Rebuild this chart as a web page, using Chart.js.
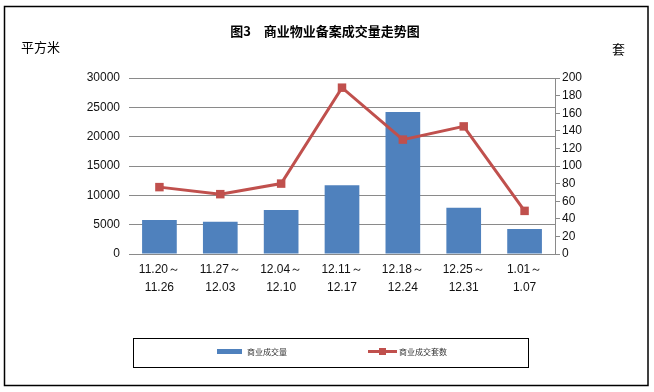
<!DOCTYPE html>
<html>
<head>
<meta charset="utf-8">
<script src="https://cdn.jsdelivr.net/npm/chart.js@4/dist/chart.umd.min.js"></script>
<style>
  html, body { margin: 0; padding: 0; background: #fff; }
  canvas { display: block; }
</style>
</head>
<body>
<canvas id="chart" width="654" height="392"></canvas>
<script>
// chart values
const weeks = [
  ['11.20～', '11.26'],
  ['11.27～', '12.03'],
  ['12.04～', '12.10'],
  ['12.11～', '12.17'],
  ['12.18～', '12.24'],
  ['12.25～', '12.31'],
  ['1.01～', '1.07']
];
const areaSold = [5800, 5500, 7500, 11700, 24200, 7900, 4250];  // 平方米
const unitsSold = [76, 68, 80, 189, 130, 145, 49];             // 套
const areaTicks = [0, 5000, 10000, 15000, 20000, 25000, 30000];
const unitTicks = [0, 20, 40, 60, 80, 100, 120, 140, 160, 180, 200];

const BLUE = '#4f81bd';
const RED = '#c0504d';
const GRID = '#8a8a8a';
const CJK = '"Noto Sans CJK SC", sans-serif';
const NUM = '"Liberation Sans", Arial, sans-serif';

// frame, title, units and the boxed legend
const decorations = {
  id: 'decorations',
  beforeDraw(chart) {
    const ctx = chart.ctx;
    ctx.save();
    ctx.fillStyle = '#fff';
    ctx.fillRect(0, 0, chart.width, chart.height);
    ctx.restore();
  },
  afterDraw(chart) {
    const ctx = chart.ctx;
    ctx.save();

    ctx.strokeStyle = '#000';
    ctx.lineWidth = 1.5;
    ctx.strokeRect(4.5, 6.5, 643.5, 379);

    ctx.fillStyle = '#000';
    ctx.textBaseline = 'middle';
    ctx.textAlign = 'center';
    ctx.font = 'bold 13px ' + CJK;
    ctx.fillText('图3　商业物业备案成交量走势图', 325, 31);

    ctx.font = '13px ' + CJK;
    ctx.textAlign = 'left';
    ctx.fillText('平方米', 21, 47);
    ctx.fillText('套', 612, 49);

    // legend
    ctx.lineWidth = 1;
    ctx.strokeRect(133.5, 338.5, 395, 29);
    const ds = chart.data.datasets;
    ctx.font = '8px ' + CJK;
    ctx.fillStyle = ds[1].backgroundColor;
    ctx.fillRect(217, 349, 25, 5);
    ctx.fillStyle = '#333';
    ctx.fillText(ds[1].label, 247, 352);

    ctx.strokeStyle = ds[0].borderColor;
    ctx.lineWidth = 3;
    ctx.beginPath();
    ctx.moveTo(368, 351.5);
    ctx.lineTo(397, 351.5);
    ctx.stroke();
    ctx.fillStyle = ds[0].borderColor;
    ctx.fillRect(379, 348, 7, 7);
    ctx.fillStyle = '#333';
    ctx.fillText(ds[0].label, 399, 352);

    ctx.restore();
  }
};

new Chart(document.getElementById('chart'), {
  data: {
    labels: weeks,
    datasets: [
      {
        type: 'line',
        label: '商业成交套数',
        data: unitsSold,
        yAxisID: 'y1',
        borderColor: RED,
        backgroundColor: RED,
        borderWidth: 3,
        pointStyle: 'rect',
        pointRadius: 6,
        pointBorderWidth: 0,
        tension: 0,
        order: 0
      },
      {
        type: 'bar',
        label: '商业成交量',
        data: areaSold,
        yAxisID: 'y',
        backgroundColor: BLUE,
        barPercentage: 0.57,
        categoryPercentage: 1,
        order: 1
      }
    ]
  },
  options: {
    responsive: false,
    animation: false,
    devicePixelRatio: 1,
    layout: { padding: { left: 0, right: 0, top: 78, bottom: 93 } },
    plugins: {
      legend: { display: false },
      title: { display: false },
      tooltip: { enabled: false }
    },
    scales: {
      x: {
        offset: true,
        grid: { display: false, drawTicks: false },
        border: { display: true, color: GRID, width: 1 },
        ticks: {
          color: '#111',
          padding: 7,
          maxRotation: 0,
          autoSkip: false,
          font: { family: NUM, size: 12, lineHeight: 1.5 }
        },
        afterFit(scale) { scale.height = 45; }
      },
      y: {
        position: 'left',
        min: 0,
        max: 30000,
        afterBuildTicks(scale) { scale.ticks = areaTicks.map(v => ({ value: v })); },
        grid: { color: GRID, lineWidth: 1, drawTicks: false },
        border: { display: false },
        ticks: {
          color: '#111',
          padding: 9,
          font: { family: NUM, size: 12 },
          callback: v => String(v)
        },
        afterFit(scale) { scale.width = 129; }
      },
      y1: {
        position: 'right',
        min: 0,
        max: 200,
        afterBuildTicks(scale) { scale.ticks = unitTicks.map(v => ({ value: v })); },
        grid: { drawOnChartArea: false, drawTicks: true, tickLength: 5, color: GRID },
        border: { display: true, color: GRID, width: 1 },
        ticks: {
          color: '#111',
          padding: 2,
          font: { family: NUM, size: 12 },
          callback: v => String(v)
        },
        afterFit(scale) { scale.width = 99; }
      }
    }
  },
  plugins: [decorations]
});
</script>
</body>
</html>
